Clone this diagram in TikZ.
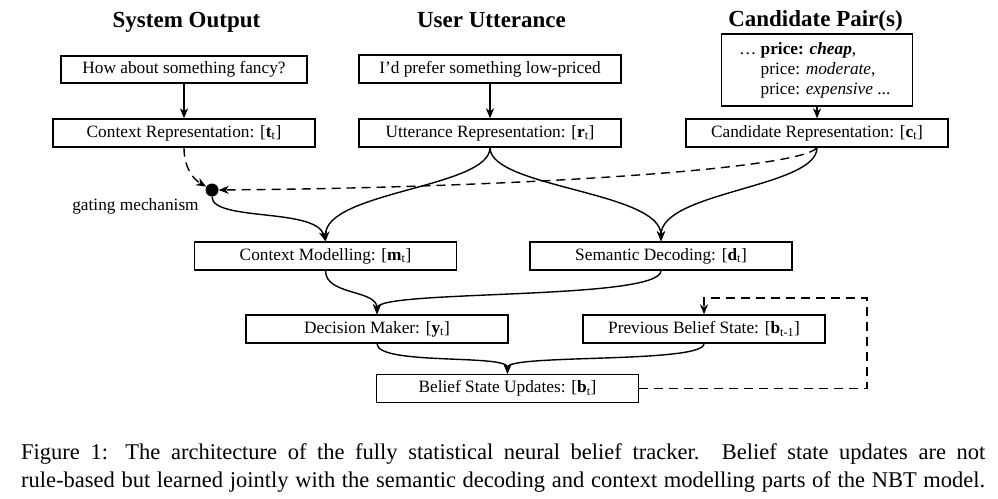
\documentclass[tikz,border=0pt]{standalone}
\usepackage{fontspec}
\setmainfont{Liberation Serif}
\usetikzlibrary{arrows.meta}
\newcommand\myboxfont{\fontsize{17.3}{20}\selectfont}
\newcommand\mytitlefont{\fontsize{23}{27}\selectfont\bfseries}
\newcommand\mycapfont{\fontsize{22.5}{28}\selectfont}
\tikzset{
  box/.style={draw, line width=1.3pt, minimum width=262pt, minimum height=28pt, inner sep=0pt, font=\myboxfont},
  conn/.style={line width=1.4pt, -{Stealth[length=10pt,width=8pt,inset=3pt]}},
  dconn/.style={conn, dash pattern=on 9pt off 6pt},
  ttl/.style={font=\mytitlefont, anchor=base, inner sep=0pt},
  capline/.style={font=\mycapfont, anchor=base west, inner sep=0pt},
}
\begin{document}
\begin{tikzpicture}[x=1pt,y=1pt]
\useasboundingbox (0,0) rectangle (998,-498);
% titles
\node[ttl] (t1) at (186.5,-27) {System Output};
\node[ttl] (t2) at (491.5,-27) {User Utterance};
\node[ttl] (t3) at (815.5,-26) {Candidate Pair(s)};
% top boxes
\node[box, minimum width=246pt, minimum height=27pt] (so) at (184,-69.5) {How about something fancy?};
\node[box] (uu) at (490,-69) {I'd prefer something low-priced};
\node[box, minimum width=191pt, minimum height=72pt] (cand) at (817,-70)
  {\hspace*{17pt}\begin{tabular}{@{}l@{}}
   \llap{\dots\ }\textbf{price:} \textbf{\textit{cheap}},\\
   price: \textit{moderate},\\
   price: \textit{expensive} ...
  \end{tabular}};
% representations
\node[box] (ctx) at (184,-133) {Context Representation: [\textbf{t}\textsubscript{t}]};
\node[box] (utt) at (490,-133) {Utterance Representation: [\textbf{r}\textsubscript{t}]};
\node[box] (crep) at (817,-133) {Candidate Representation: [\textbf{c}\textsubscript{t}]};
% gating
\node[circle, fill=black, minimum size=13pt, inner sep=0pt] (dot) at (212,-190) {};
\node[font=\myboxfont, anchor=base, inner sep=0pt] (gl) at (135.5,-210) {gating mechanism};
% middle
\node[box] (cm) at (325.5,-256) {Context Modelling: [\textbf{m}\textsubscript{t}]};
\node[box] (sd) at (661,-256) {Semantic Decoding: [\textbf{d}\textsubscript{t}]};
\node[box] (dm) at (377,-329) {Decision Maker: [\textbf{y}\textsubscript{t}]};
\node[box, minimum width=242pt] (pbs) at (704,-329) {Previous Belief State: [\textbf{b}\textsubscript{t-1}]};
\node[box] (bsu) at (507.5,-388.5) {Belief State Updates: [\textbf{b}\textsubscript{t}]};
\coordinate (loopa) at (867,-298);
% connectors
\draw[conn] (so) -- (ctx);
\draw[conn] (uu) -- (utt);
\draw[conn] (cand) -- (crep);
\draw[dconn] (ctx.south) to[out=-90,in=150,out distance=20pt,in distance=15pt] (dot);
\draw[dconn] (crep.south) .. controls (800,-170) and (500,-188) .. (dot);
\draw[conn] (utt.south) to[out=-90,in=90,out distance=40pt,in distance=50pt] (cm.north);
\draw[conn] (utt.south) to[out=-90,in=90,out distance=40pt,in distance=50pt] (sd.north);
\draw[conn] (crep.south) to[out=-90,in=90,out distance=40pt,in distance=50pt] (sd.north);
\draw[conn] (dot.south) to[out=-90,in=105,out distance=25pt,in distance=35pt] (cm.north);
\draw[conn] (cm.south) to[out=-90,in=90,out distance=25pt,in distance=25pt] (dm.north);
\draw[conn] (sd.south) to[out=-90,in=90,out distance=30pt,in distance=25pt] (dm.north);
\draw[conn] (dm.south) to[out=-90,in=90,out distance=22pt,in distance=20pt] (bsu.north);
\draw[conn] (pbs.south) to[out=-90,in=90,out distance=20pt,in distance=20pt] (bsu.north);
\draw[dconn] (bsu.east) -| (loopa) -| (pbs.north);
% caption
\node[capline] (cap1) at (21,-459) {\hbox to 964pt{Figure 1: The architecture of the fully statistical neural belief tracker.  Belief state updates are not}};
\node[capline] (cap2) at (21,-487) {\hbox to 964pt{rule-based but learned jointly with the semantic decoding and context modelling parts of the NBT model.}};
\end{tikzpicture}
\end{document}
